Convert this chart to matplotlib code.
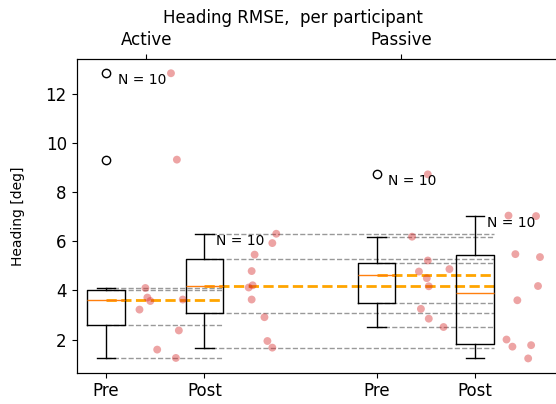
import numpy as np
import matplotlib
matplotlib.use('Agg')
import matplotlib.pyplot as plt
from matplotlib import cbook

# heading RMSE per participant (deg)
active_pre = [4.10, 3.71, 3.57, 3.22, 1.59, 1.25, 2.37, 3.63, 12.85, 9.33]
active_post = [6.31, 5.93, 5.46, 4.79, 4.21, 4.12, 3.63, 2.91, 1.94, 1.67]
passive_pre = [8.73, 6.19, 5.22, 4.77, 4.87, 4.50, 4.17, 3.25, 2.85, 2.51]
passive_post = [7.05, 7.03, 5.48, 5.36, 4.18, 3.60, 2.00, 1.71, 1.77, 1.23]

# horizontal jitter of the participant dots (x units right of the box)
jit_active_pre = [0.40, 0.42, 0.45, 0.34, 0.52, 0.71, 0.74, 0.78, 0.66, 0.72]
jit_active_post = [0.73, 0.69, 0.51, 0.48, 0.49, 0.45, 0.48, 0.61, 0.64, 0.69]
jit_passive_pre = [0.52, 0.36, 0.52, 0.43, 0.74, 0.51, 0.53, 0.45, 0.53, 0.68]
jit_passive_post = [0.34, 0.62, 0.41, 0.66, 0.64, 0.43, 0.32, 0.38, 0.57, 0.54]

tick_labels = ['Pre', 'Post', 'Pre', 'Post']
group_labels = ['Active', 'Passive']

data = [active_pre, active_post, passive_pre, passive_post]
jitter = [jit_active_pre, jit_active_post, jit_passive_pre, jit_passive_post]
pos = [1, 2, 3.75, 4.75]
w = 0.38
# each box's reference lines run up to the right edge of this box
line_end = [1, 3, 3, None]

fig = plt.figure(figsize=(5.56, 4.04), dpi=100)
ax = fig.add_axes([0.1376, 0.0775, 0.938, 0.7765])

ax.boxplot(data, positions=pos, widths=w, zorder=2)

stats = cbook.boxplot_stats(data)
for i, st in enumerate(stats):
    if line_end[i] is None:
        continue
    x1 = pos[line_end[i]] + w / 2
    ax.hlines([st['whislo'], st['q1'], st['q3'], st['whishi']], pos[i], x1,
              colors='gray', linestyles='--', linewidth=1, alpha=0.8, zorder=1)
    ax.hlines(st['med'], pos[i], x1, colors='orange', linestyles='--',
              linewidth=2, zorder=1.5)

for i, d in enumerate(data):
    xs = np.array(jitter[i]) + pos[i]
    ax.scatter(xs, d, s=32, color='C3', alpha=0.42, edgecolors='none', zorder=3)
    ax.text(pos[i] + 0.12, max(d), 'N = %d' % len(d), va='top', fontsize=10)

ax.set_xlim(0.70, 6.0)
ax.set_xticks(pos)
ax.set_xticklabels(tick_labels, fontsize=12)
ax.tick_params(axis='y', labelsize=12)
ax.set_ylabel('Heading [deg]', fontsize=10, labelpad=15)

ax2 = ax.twiny()
ax2.set_xlim(ax.get_xlim())
ax2.set_xticks([1.41, 4.0])
ax2.set_xticklabels(group_labels, fontsize=12)

fig.text(0.526, 0.943, 'Heading RMSE,  per participant', ha='center',
         va='baseline', fontsize=12)

fig.savefig('out.png', dpi=100)
